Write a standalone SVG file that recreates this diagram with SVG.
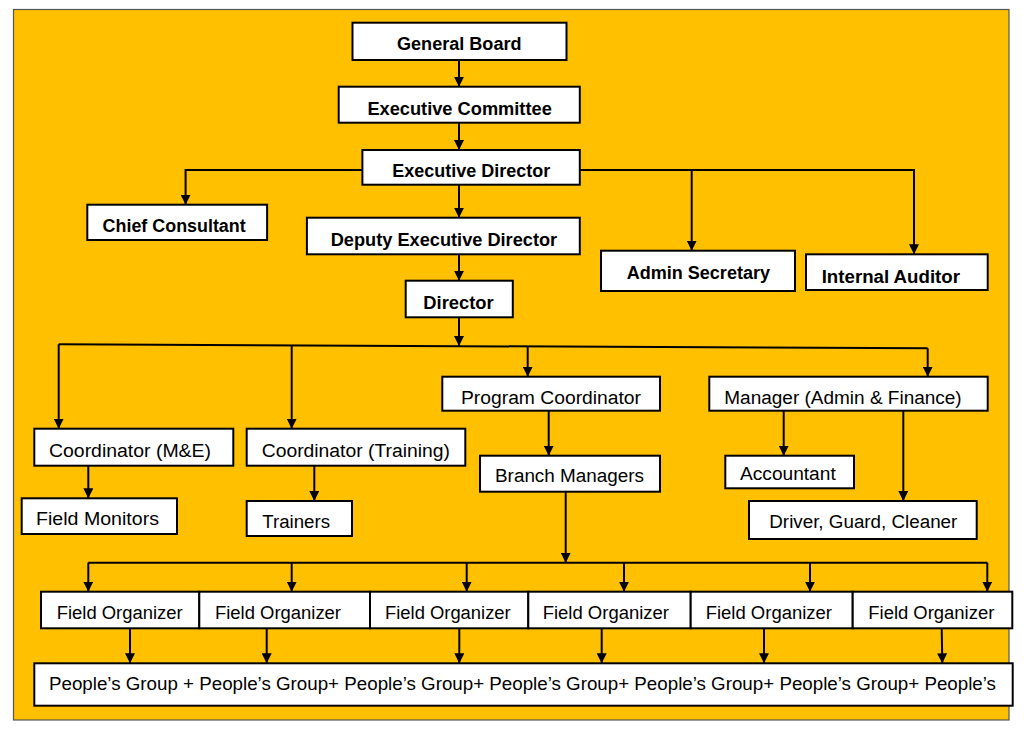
<svg xmlns="http://www.w3.org/2000/svg" width="1024" height="731" viewBox="0 0 1024 731">
<defs>
<marker id="ah" viewBox="0 0 10 10" refX="10" refY="5" markerWidth="10" markerHeight="10" markerUnits="userSpaceOnUse" orient="auto">
<path d="M0,0 L10,5 L0,10 z" fill="#000"/>
</marker>
<style>
.box{fill:#fff;stroke:#000;stroke-width:2}
.b{font-family:"Liberation Sans",Arial,sans-serif;font-weight:bold;font-size:18px;fill:#000}
.r{font-family:"Liberation Sans",Arial,sans-serif;font-size:18px;fill:#000}
.c path{fill:none;stroke:#000;stroke-width:2}
.c .a{marker-end:url(#ah)}
</style>
</defs>
<rect x="0" y="0" width="1024" height="731" fill="#fff"/>
<rect x="13.5" y="9.5" width="995.5" height="710.5" fill="#FFC000" stroke="#555" stroke-width="1.2"/>

<g id="connectors" class="c">
<path class="a" d="M459,60 V86.7"/>
<path class="a" d="M459,122.7 V150"/>
<path class="a" d="M459,184.7 V217.7"/>
<path class="a" d="M459,254.3 V280.7"/>
<path class="a" d="M362.4,170 H185.6 V204.7"/>
<path class="a" d="M579.8,170 H914 V254.3"/>
<path class="a" d="M691.7,170 V250.7"/>
<path class="a" d="M459,317.3 V346"/>
<path d="M58.7,344.3 L927.7,348.3"/>
<path class="a" d="M58.7,344.3 V428.7"/>
<path class="a" d="M291.7,345.5 V428.7"/>
<path class="a" d="M527.7,346.6 V376.7"/>
<path class="a" d="M927.7,348.3 V376.7"/>
<path class="a" d="M548.7,410.7 V455.7"/>
<path class="a" d="M783.7,410.7 V455.7"/>
<path class="a" d="M903.3,410.7 V501"/>
<path class="a" d="M88.3,465.7 V498.3"/>
<path class="a" d="M314.3,465.7 V501"/>
<path class="a" d="M565.7,491.7 V562.7"/>
<path d="M88.3,562.7 H987.3"/>
<path class="a" d="M88.3,562.7 V591.7"/>
<path class="a" d="M291.7,562.7 V591.7"/>
<path class="a" d="M466.7,562.7 V591.7"/>
<path class="a" d="M624,562.7 V591.7"/>
<path class="a" d="M810,562.7 V591.7"/>
<path class="a" d="M987.3,562.7 V591.7"/>
<path class="a" d="M130,628.3 V663.3"/>
<path class="a" d="M266.7,628.3 V663.3"/>
<path class="a" d="M459.3,628.3 V663.3"/>
<path class="a" d="M601.7,628.3 V663.3"/>
<path class="a" d="M764,628.3 V663.3"/>
<path class="a" d="M941.7,628.3 L942.3,663.3"/>
</g>

<g id="general-board"><rect class="box" x="352.5" y="22.7" width="214" height="37.3"/><text class="b" x="397" y="50" textLength="124.5" lengthAdjust="spacingAndGlyphs">General Board</text></g>
<g id="executive-committee"><rect class="box" x="338.7" y="86.7" width="241.1" height="36"/><text class="b" x="367.4" y="115" textLength="184.4" lengthAdjust="spacingAndGlyphs">Executive Committee</text></g>
<g id="executive-director"><rect class="box" x="362.4" y="150" width="217.4" height="34.7"/><text class="b" x="392.3" y="177.3" textLength="158" lengthAdjust="spacingAndGlyphs">Executive Director</text></g>
<g id="chief-consultant"><rect class="box" x="87.3" y="204.7" width="179.8" height="35.3"/><text class="b" x="102.6" y="231.7" textLength="143.1" lengthAdjust="spacingAndGlyphs">Chief Consultant</text></g>
<g id="deputy-executive-director"><rect class="box" x="306.9" y="217.7" width="272.9" height="36.6"/><text class="b" x="330.7" y="246" textLength="226.5" lengthAdjust="spacingAndGlyphs">Deputy Executive Director</text></g>
<g id="admin-secretary"><rect class="box" x="601" y="250.7" width="194" height="40.3"/><text class="b" x="626.7" y="279.3" textLength="143.3" lengthAdjust="spacingAndGlyphs">Admin Secretary</text></g>
<g id="internal-auditor"><rect class="box" x="806" y="254.3" width="181.7" height="35.7"/><text class="b" x="821.7" y="282.7" textLength="138.3" lengthAdjust="spacingAndGlyphs">Internal Auditor</text></g>
<g id="director"><rect class="box" x="405.7" y="280.7" width="107.1" height="36.6"/><text class="b" x="423.3" y="309.3" textLength="70.4" lengthAdjust="spacingAndGlyphs">Director</text></g>

<g id="coordinator-me"><rect class="box" x="34.3" y="428.7" width="199" height="37"/><text class="r" x="49" y="457.3" textLength="162" lengthAdjust="spacingAndGlyphs">Coordinator (M&amp;E)</text></g>
<g id="coordinator-training"><rect class="box" x="246.7" y="428.7" width="218.6" height="37"/><text class="r" x="261.7" y="457.3" textLength="188.3" lengthAdjust="spacingAndGlyphs">Coordinator (Training)</text></g>
<g id="program-coordinator"><rect class="box" x="442.3" y="376.7" width="217.7" height="34"/><text class="r" x="461" y="404" textLength="180" lengthAdjust="spacingAndGlyphs">Program Coordinator</text></g>
<g id="manager-admin-finance"><rect class="box" x="709.3" y="376.7" width="278.4" height="34"/><text class="r" x="724.3" y="404" textLength="237.4" lengthAdjust="spacingAndGlyphs">Manager (Admin &amp; Finance)</text></g>
<g id="branch-managers"><rect class="box" x="480" y="455.7" width="180" height="36"/><text class="r" x="495" y="481.7" textLength="149" lengthAdjust="spacingAndGlyphs">Branch Managers</text></g>
<g id="accountant"><rect class="box" x="725.3" y="455.7" width="128.7" height="32.6"/><text class="r" x="740" y="480" textLength="95.7" lengthAdjust="spacingAndGlyphs">Accountant</text></g>
<g id="driver-guard-cleaner"><rect class="box" x="749" y="501" width="227.7" height="38"/><text class="r" x="769.3" y="528.3" textLength="188" lengthAdjust="spacingAndGlyphs">Driver, Guard, Cleaner</text></g>
<g id="field-monitors"><rect class="box" x="21.7" y="498.3" width="155.3" height="35.7"/><text class="r" x="36" y="525.3" textLength="123" lengthAdjust="spacingAndGlyphs">Field Monitors</text></g>
<g id="trainers"><rect class="box" x="246.7" y="501" width="105.3" height="35"/><text class="r" x="262.3" y="527.7" textLength="67.7" lengthAdjust="spacingAndGlyphs">Trainers</text></g>

<g id="field-organizer-1"><rect class="box" x="41" y="591.7" width="158.3" height="36.6"/><text class="r" x="56.7" y="619" textLength="126" lengthAdjust="spacingAndGlyphs">Field Organizer</text></g>
<g id="field-organizer-2"><rect class="box" x="199.3" y="591.7" width="170.7" height="36.6"/><text class="r" x="215" y="619" textLength="126" lengthAdjust="spacingAndGlyphs">Field Organizer</text></g>
<g id="field-organizer-3"><rect class="box" x="370" y="591.7" width="158.3" height="36.6"/><text class="r" x="385" y="619" textLength="125.7" lengthAdjust="spacingAndGlyphs">Field Organizer</text></g>
<g id="field-organizer-4"><rect class="box" x="528.3" y="591.7" width="162.4" height="36.6"/><text class="r" x="542.7" y="619" textLength="126.3" lengthAdjust="spacingAndGlyphs">Field Organizer</text></g>
<g id="field-organizer-5"><rect class="box" x="690.7" y="591.7" width="162" height="36.6"/><text class="r" x="705.7" y="619" textLength="126.3" lengthAdjust="spacingAndGlyphs">Field Organizer</text></g>
<g id="field-organizer-6"><rect class="box" x="852.7" y="591.7" width="159.6" height="36.6"/><text class="r" x="868.3" y="619" textLength="126" lengthAdjust="spacingAndGlyphs">Field Organizer</text></g>

<g id="peoples-groups"><rect class="box" x="34.3" y="663.3" width="978.4" height="42.4"/><text class="r" x="49" y="690" textLength="947" lengthAdjust="spacingAndGlyphs">People’s Group + People’s Group+ People’s Group+ People’s Group+ People’s Group+ People’s Group+ People’s</text></g>
</svg>
